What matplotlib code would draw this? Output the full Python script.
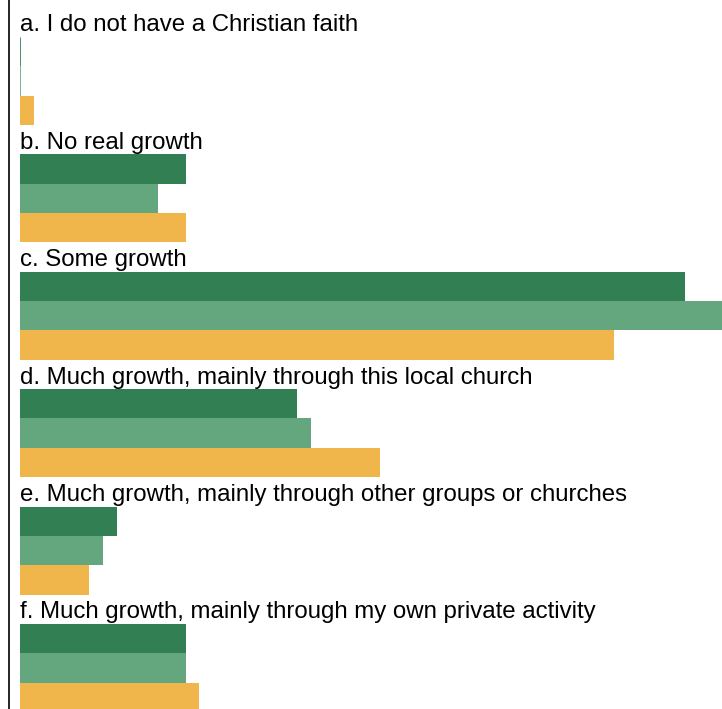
import matplotlib
matplotlib.use("Agg")
import matplotlib.pyplot as plt
from matplotlib.lines import Line2D
import numpy as np

plt.rcParams['font.family'] = ['Liberation Sans', 'DejaVu Sans']

categories = [
    "a. I do not have a Christian faith",
    "b. No real growth",
    "c. Some growth",
    "d. Much growth, mainly through this local church",
    "e. Much growth, mainly through other groups or churches",
    "f. Much growth, mainly through my own private activity",
]
# percentages per series
serie_1 = [0, 12, 48.2, 20.1, 7, 12]
serie_2 = [0, 10, 50.9, 21.1, 6, 12]
serie_3 = [1, 12, 43.1, 26.1, 5, 13]
couleurs = ["#317f52", "#64a67e", "#f0b64b"]

fig = plt.figure(figsize=(7.22, 7.09), dpi=100)
ax = fig.add_axes([20/722, 0, 702/722, 1])

series = [serie_1, serie_2, serie_3]
for i, cat in enumerate(categories):
    for j, s in enumerate(series):
        ax.barh(4*i + 1.5 + j, s[i], height=1.0, left=0, color=couleurs[j],
                edgecolor=couleurs[j] if s[i] == 0 else 'none', linewidth=0.6)
    # libellé juste au-dessus du premier bar
    ax.text(0, 4*i + 0.81, cat, fontsize=17.3, color='black', va='baseline', ha='left')

ax.set_xlim(0, 50.9)
ax.set_ylim(23.9, -0.26)
ax.axis('off')

# ligne verticale à gauche
fig.add_artist(Line2D([8.5/722, 8.5/722], [0, 1], color='black', linewidth=1.2))

fig.savefig("out.png", dpi=100)
